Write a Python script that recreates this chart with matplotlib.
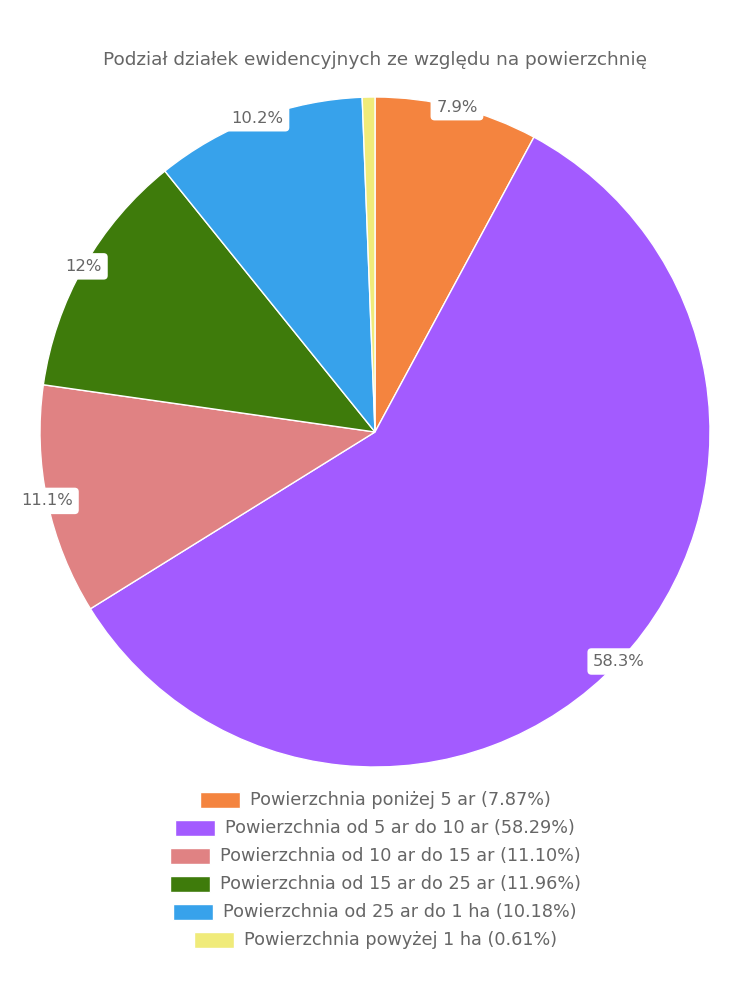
import matplotlib.pyplot as plt
import numpy as np
from matplotlib.patches import Rectangle

categories = [
    'Powierzchnia poniżej 5 ar',
    'Powierzchnia od 5 ar do 10 ar',
    'Powierzchnia od 10 ar do 15 ar',
    'Powierzchnia od 15 ar do 25 ar',
    'Powierzchnia od 25 ar do 1 ha',
    'Powierzchnia powyżej 1 ha',
]
values = [7.87, 58.29, 11.10, 11.96, 10.18, 0.61]
slice_labels = ['7.9%', '58.3%', '11.1%', '12%', '10.2%', '']
colors = ['#f4843f', '#a35bff', '#e08283', '#3e7b0b', '#37a2eb', '#f0eb7a']
title = 'Podział działek ewidencyjnych ze względu na powierzchnię'

text_color = '#666666'
plt.rcParams['font.family'] = ['DejaVu Sans']

W, H = 750, 1000
fig = plt.figure(figsize=(W / 100, H / 100), dpi=100)

# pie area: center (375, 432) px, radius 335 px
cx, cy, r = 375, 432, 335
ax = fig.add_axes([(cx - r) / W, (H - cy - r) / H, 2 * r / W, 2 * r / H])
wedges, _ = ax.pie(values, colors=colors, startangle=90, counterclock=False,
                   radius=1, wedgeprops=dict(edgecolor='white', linewidth=1))
ax.set_xlim(-1, 1)
ax.set_ylim(-1, 1)
ax.set_aspect('equal')
ax.axis('off')

# percentage labels at the outer edge, middle of each slice
for w, lab in zip(wedges, slice_labels):
    if not lab:
        continue
    mid = np.deg2rad((w.theta1 + w.theta2) / 2)
    ax.text(np.cos(mid), np.sin(mid), lab, ha='center', va='center',
            fontsize=11.8, color=text_color,
            bbox=dict(boxstyle='round,pad=0.35,rounding_size=0.25',
                      facecolor='white', edgecolor='none'))

fig.text(0.5, 1 - 60 / H, title, ha='center', va='center',
         fontsize=13.3, color=text_color)

# legend rows, each centered individually
fig.canvas.draw()
renderer = fig.canvas.get_renderer()
box_w, box_h, gap = 40, 16, 10
for i, (cat, val, col) in enumerate(zip(categories, values, colors)):
    y = 800 + i * 28
    t = fig.text(0.5, 1 - y / H, f'{cat} ({val:.2f}%)', ha='center', va='center',
                 fontsize=12.7, color=text_color)
    bb = t.get_window_extent(renderer)
    total = box_w + gap + bb.width
    left = W / 2 - total / 2
    t.set_x((left + box_w + gap + bb.width / 2) / W)
    fig.patches.append(Rectangle((left / W, 1 - (y + box_h / 2) / H),
                                 box_w / W, box_h / H, transform=fig.transFigure,
                                 facecolor=col, edgecolor='white', linewidth=1))

fig.savefig('out.png', dpi=100)
